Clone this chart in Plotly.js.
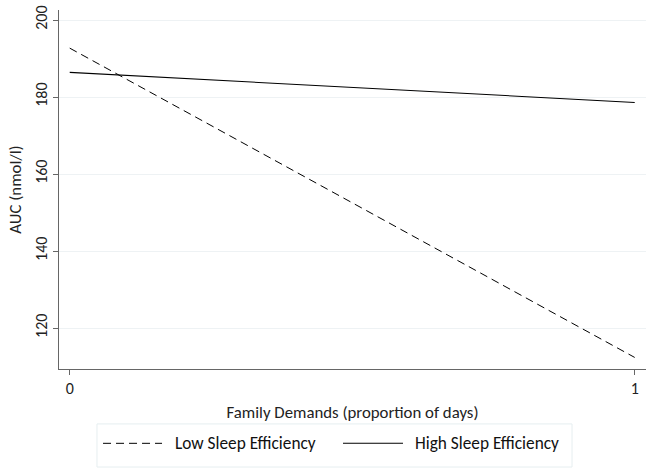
<!DOCTYPE html>
<html>
<head>
<meta charset="utf-8">
<script src="https://cdn.plot.ly/plotly-3.0.1.min.js"></script>
<style>body{margin:0;padding:0;background:#fff}#chart{width:655px;height:468px}</style>
</head>
<body>
<div id="chart"></div>
<script>
const xValues = [0, 1];
const lowSleep = [192.7, 112.4];
const highSleep = [186.4, 178.6];
const seriesNames = ["Low Sleep Efficiency", "High Sleep Efficiency"];
const yTicks = [120, 140, 160, 180, 200];
const xTicks = [0, 1];

const font = "Carlito, 'Open Sans', 'Noto Sans', sans-serif";
const dashLow = "8px,5px";

const traces = [
  {x: xValues, y: lowSleep, name: seriesNames[0], mode: "lines",
   line: {color: "#000", width: 1, dash: dashLow}},
  {x: xValues, y: highSleep, name: seriesNames[1], mode: "lines",
   line: {color: "#000", width: 1.1}}
];

// custom legend (paper coordinates of plot area)
const lgY = -0.207;
const shapes = [
  {type: "rect", xref: "paper", yref: "paper", x0: 0.0647, x1: 0.874, y0: -0.273, y1: -0.153,
   line: {color: "#e6eef0", width: 1}, fillcolor: "rgba(0,0,0,0)"},
  {type: "line", xref: "paper", yref: "paper", x0: 0.075, x1: 0.1755, y0: lgY, y1: lgY,
   line: {color: "#000", width: 1, dash: dashLow}},
  {type: "line", xref: "paper", yref: "paper", x0: 0.4838, x1: 0.586, y0: lgY, y1: lgY,
   line: {color: "#000", width: 1.1}}
];
const annotations = [
  {xref: "paper", yref: "paper", x: 0.194, y: lgY, xanchor: "left", yanchor: "middle",
   text: seriesNames[0], showarrow: false, font: {size: 17.3, color: "#111"}},
  {xref: "paper", yref: "paper", x: 0.603, y: lgY, xanchor: "left", yanchor: "middle",
   text: seriesNames[1], showarrow: false, font: {size: 17.3, color: "#111"}}
];

const layout = {
  width: 655, height: 468,
  margin: {l: 59, r: 9, t: 10, b: 99},
  paper_bgcolor: "#fff", plot_bgcolor: "#fff",
  font: {family: font, size: 16, color: "#222"},
  showlegend: false,
  shapes: shapes,
  annotations: annotations,
  xaxis: {range: [-0.019, 1.02], tickvals: xTicks, ticktext: xTicks.map(String),
    showline: true, linecolor: "#666", linewidth: 1, ticks: "outside", ticklen: 5,
    tickcolor: "#666", showgrid: false, zeroline: false,
    title: {text: "Family Demands (proportion of days)", font: {size: 16.8}, standoff: 9}},
  yaxis: {range: [109.4, 202.6], tickvals: yTicks, ticktext: yTicks.map(String),
    showline: true, linecolor: "#666", linewidth: 1, ticks: "outside", ticklen: 5,
    tickcolor: "#666", tickangle: -90, showgrid: true, gridcolor: "#eef2f4",
    zeroline: false,
    title: {text: "AUC (nmol/l)", font: {size: 16.8}, standoff: 5}}
};

Plotly.newPlot("chart", traces, layout, {displayModeBar: false});
</script>
</body>
</html>
